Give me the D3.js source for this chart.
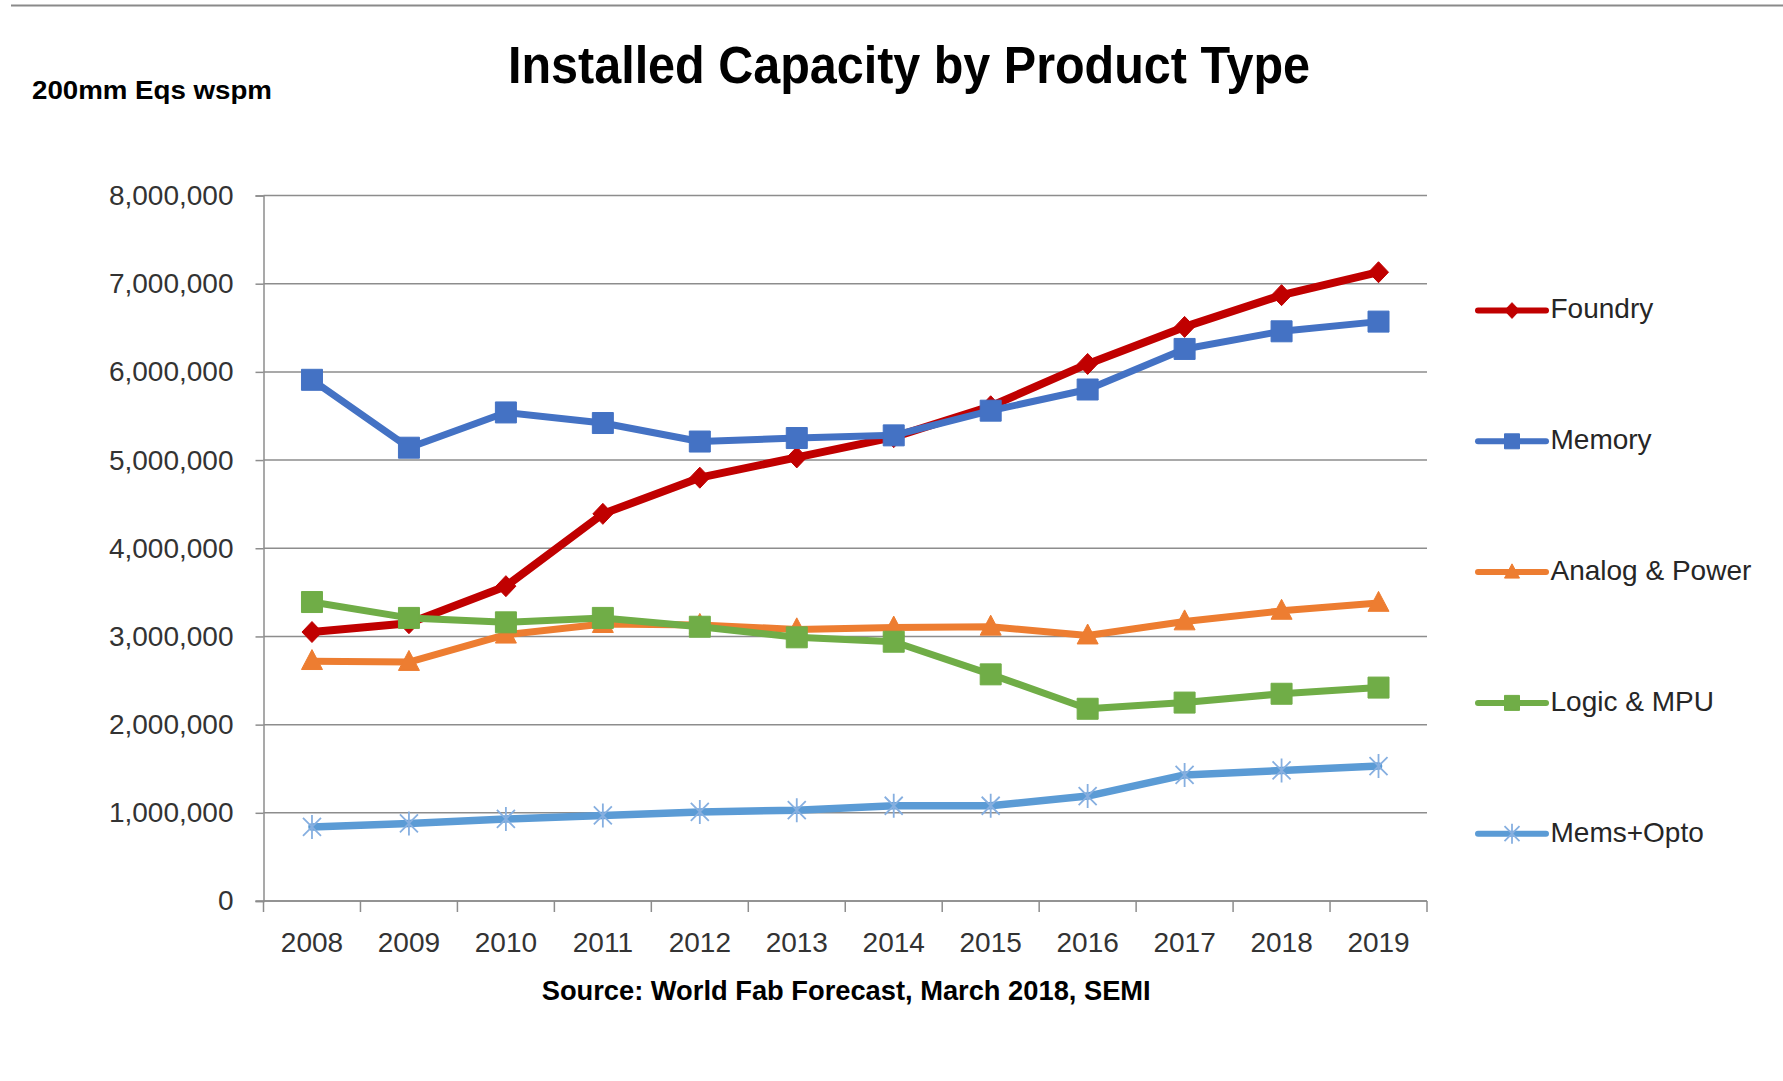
<!DOCTYPE html>
<html>
<head>
<meta charset="utf-8">
<script src="https://cdn.jsdelivr.net/npm/d3@7"></script>
<style>
  html, body { margin: 0; padding: 0; background: #ffffff; }
  svg { display: block; font-family: "Liberation Sans", Arial, sans-serif; }
</style>
</head>
<body>
<svg id="chart" width="1783" height="1081"></svg>
<script>
// Installed capacity (200mm-equivalent wafer starts per month) by product type
const years = [2008, 2009, 2010, 2011, 2012, 2013, 2014, 2015, 2016, 2017, 2018, 2019];

const foundry = [3050000, 3150000, 3570000, 4390000, 4800000, 5030000, 5260000, 5610000, 6090000, 6510000, 6870000, 7130000];
const memory  = [5910000, 5140000, 5540000, 5420000, 5210000, 5250000, 5280000, 5560000, 5800000, 6260000, 6460000, 6570000];
const analogPower = [2720000, 2710000, 3020000, 3140000, 3130000, 3080000, 3100000, 3110000, 3010000, 3170000, 3290000, 3380000];
const logicMpu = [3390000, 3210000, 3160000, 3210000, 3110000, 2990000, 2940000, 2570000, 2180000, 2250000, 2350000, 2420000];
const memsOpto = [840000, 880000, 930000, 970000, 1010000, 1030000, 1080000, 1080000, 1190000, 1430000, 1480000, 1530000];

const seriesNames = ["Foundry", "Memory", "Analog & Power", "Logic & MPU", "Mems+Opto"];
const yTicks = [0, 1000000, 2000000, 3000000, 4000000, 5000000, 6000000, 7000000, 8000000];

const titleText = "Installed Capacity by Product Type";
const unitText = "200mm Eqs  wspm";
const sourceText = "Source: World Fab Forecast, March 2018, SEMI";

// Styling per series
const styles = [
  { color: "#C00000", width: 8, marker: "diamond" },
  { color: "#4472C4", width: 7, marker: "square" },
  { color: "#ED7D31", width: 7, marker: "triangle" },
  { color: "#70AD47", width: 7, marker: "square" },
  { color: "#5B9BD5", width: 7.5, marker: "star" }
];
const seriesValues = [foundry, memory, analogPower, logicMpu, memsOpto];
const series = seriesNames.map((name, i) => ({
  name, values: seriesValues[i], ...styles[i]
}));

const svg = d3.select("#chart");
const gridColor = "#8d8d8d";
const textColor = "#262626";

// Plot area
const plot = { left: 263.5, right: 1427, top: 195.5, bottom: 901 };

const x = d3.scaleBand().domain(years).range([plot.left, plot.right]).padding(0);
const y = d3.scaleLinear().domain([0, 8000000]).range([plot.bottom, plot.top]);

// Thin rule along the top of the page
svg.append("line")
  .attr("x1", 11).attr("x2", 1783).attr("y1", 5.5).attr("y2", 5.5)
  .attr("stroke", "#8a8a8a").attr("stroke-width", 2);

// Title, unit label and source note
svg.append("text")
  .attr("x", 508).attr("y", 82.7)
  .attr("font-size", 51).attr("font-weight", "bold").attr("fill", "#000")
  .attr("textLength", 802).attr("lengthAdjust", "spacingAndGlyphs")
  .text(titleText);

svg.append("text")
  .attr("x", 32).attr("y", 99)
  .attr("font-size", 26.5).attr("font-weight", "bold").attr("fill", "#000")
  .attr("textLength", 240).attr("lengthAdjust", "spacingAndGlyphs")
  .text(unitText);

svg.append("text")
  .attr("x", 541.7).attr("y", 1000)
  .attr("font-size", 27).attr("font-weight", "bold").attr("fill", "#000")
  .attr("textLength", 609).attr("lengthAdjust", "spacingAndGlyphs")
  .text(sourceText);

// Horizontal gridlines
svg.append("g")
  .selectAll("line")
  .data(yTicks)
  .join("line")
  .attr("x1", plot.left).attr("x2", plot.right)
  .attr("y1", d => y(d)).attr("y2", d => y(d))
  .attr("stroke", gridColor).attr("stroke-width", 1.5);

// Y axis
const yAxis = svg.append("g")
  .attr("transform", `translate(${plot.left},0)`)
  .call(d3.axisLeft(y).tickValues(yTicks).tickFormat(d3.format(",")).tickSize(8).tickPadding(22));
yAxis.select(".domain").attr("stroke", gridColor).attr("stroke-width", 1.5);
yAxis.selectAll(".tick line").attr("stroke", gridColor).attr("stroke-width", 1.5);
yAxis.selectAll(".tick text")
  .attr("font-size", 28).attr("fill", "#333")
  .attr("font-family", "'Liberation Sans', Arial, sans-serif");

// X axis: labels centred in each category, ticks at category boundaries
const xAxis = svg.append("g")
  .attr("transform", `translate(0,${plot.bottom})`)
  .call(d3.axisBottom(x).tickSizeInner(0).tickSizeOuter(0).tickPadding(31));
xAxis.select(".domain").remove();
xAxis.selectAll(".tick text")
  .attr("font-size", 28).attr("fill", "#333")
  .attr("font-family", "'Liberation Sans', Arial, sans-serif");

const boundaries = years.map(d => x(d)).concat([x.range()[1]]);
svg.append("g")
  .selectAll("line")
  .data(boundaries)
  .join("line")
  .attr("x1", d => d).attr("x2", d => d)
  .attr("y1", plot.bottom).attr("y2", plot.bottom + 11)
  .attr("stroke", gridColor).attr("stroke-width", 1.5);
svg.append("line")
  .attr("x1", plot.left - 8).attr("x2", plot.right)
  .attr("y1", plot.bottom).attr("y2", plot.bottom)
  .attr("stroke", gridColor).attr("stroke-width", 1.5);

// Marker shapes
const markerShapes = {
  diamond: { draw(ctx, s) { const r = s; ctx.moveTo(0, -r * 1.05); ctx.lineTo(r, 0); ctx.lineTo(0, r * 1.05); ctx.lineTo(-r, 0); ctx.closePath(); } },
  square: { draw(ctx, s) { ctx.rect(-s, -s, 2 * s, 2 * s); } },
  triangle: { draw(ctx, s) { ctx.moveTo(0, -s * 1.1); ctx.lineTo(s, s * 0.8); ctx.lineTo(-s, s * 0.8); ctx.closePath(); } },
  star: { draw(ctx, s) {
    const d = s * 0.75;
    ctx.moveTo(-d, -d); ctx.lineTo(d, d);
    ctx.moveTo(d, -d); ctx.lineTo(-d, d);
    ctx.moveTo(0, -s); ctx.lineTo(0, s);
  } }
};

function drawMarker(g, kind, color, cx, cy, half) {
  const p = d3.symbol().type(markerShapes[kind]).size(half)();
  if (kind === "star") {
    g.append("path").attr("d", p)
      .attr("transform", `translate(${cx},${cy})`)
      .attr("fill", "none").attr("stroke", "#86afe0").attr("stroke-width", 1.8);
  } else {
    g.append("path").attr("d", p)
      .attr("transform", `translate(${cx},${cy})`)
      .attr("fill", color).attr("stroke", color).attr("stroke-width", 1);
  }
}

const line = d3.line()
  .x((d, i) => x(years[i]) + x.bandwidth() / 2)
  .y(d => y(d));

const markerHalf = { diamond: 10, square: 10.5, triangle: 10.5, star: 12 };

// Series lines and markers, drawn in legend order
series.forEach(s => {
  const g = svg.append("g");
  g.append("path")
    .attr("d", line(s.values))
    .attr("fill", "none")
    .attr("stroke", s.color)
    .attr("stroke-width", s.width)
    .attr("stroke-linejoin", "round")
    .attr("stroke-linecap", "round");
  s.values.forEach((v, i) => {
    drawMarker(g, s.marker, s.color, x(years[i]) + x.bandwidth() / 2, y(v), markerHalf[s.marker]);
  });
});

// Legend
const legendY0 = 310.5, legendStep = 130.8;
const legend = svg.append("g");
series.forEach((s, i) => {
  const ly = legendY0 + i * legendStep;
  legend.append("line")
    .attr("x1", 1478).attr("x2", 1546).attr("y1", ly).attr("y2", ly)
    .attr("stroke", s.color).attr("stroke-width", 6).attr("stroke-linecap", "round");
  drawMarker(legend, s.marker, s.color, 1512, ly, s.marker === "star" ? 10 : 7.5);
  legend.append("text")
    .attr("x", 1550.5).attr("y", ly + 7.8)
    .attr("font-size", 28).attr("fill", textColor)
    .text(s.name);
});
</script>
</body>
</html>
